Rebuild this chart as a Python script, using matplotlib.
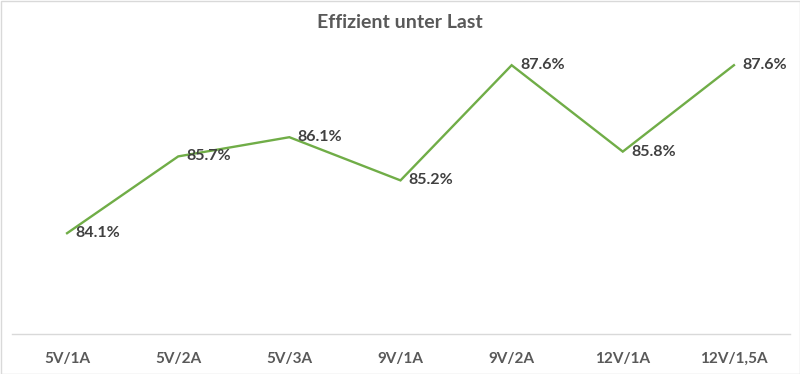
import matplotlib
matplotlib.use("Agg")
import matplotlib.pyplot as plt

## Chart data
categories = ["5V/1A", "5V/2A", "5V/3A", "9V/1A", "9V/2A", "12V/1A", "12V/1,5A"]
efficiency = [84.1, 85.7, 86.1, 85.2, 87.6, 85.8, 87.6]
title = "Effizient unter Last"

plt.rcParams["font.family"] = ["Lato", "DejaVu Sans"]

fig = plt.figure(figsize=(8, 3.74), dpi=100)
ax = fig.add_axes([11.5 / 800, 40 / 374, 778 / 800, 288 / 374])

x = list(range(len(categories)))
ax.plot(x, efficiency, color="#70AD47", linewidth=1.7, solid_joinstyle="miter")

## Data labels right of each point
for xi, v in zip(x, efficiency):
    ax.annotate(f"{v:.1f}%", (xi, v), xytext=(6, 0), textcoords="offset points",
                ha="left", va="center", fontsize=11.5, fontweight="bold", color="#404040")

ax.set_xlim(-0.5, len(categories) - 0.5)
ax.set_ylim(82, 88)
ax.set_xticks(x)
ax.set_xticklabels(categories, fontsize=11, fontweight="bold", color="#595959")
ax.tick_params(axis="x", length=0, pad=13)
ax.set_yticks([])

for side in ["top", "left", "right"]:
    ax.spines[side].set_visible(False)
ax.spines["bottom"].set_color("#D9D9D9")
ax.spines["bottom"].set_linewidth(1)

fig.text(0.5, 1 - 22 / 374, title, ha="center", va="center", fontsize=14,
         color="#595959", fontweight="bold")

## Chart border
fig.patches.append(plt.Rectangle((0.5 / 800, 0.5 / 374), 799 / 800, 373 / 374, transform=fig.transFigure,
                                 fill=False, edgecolor="#D9D9D9", linewidth=1))

fig.savefig("out.png", dpi=100)
